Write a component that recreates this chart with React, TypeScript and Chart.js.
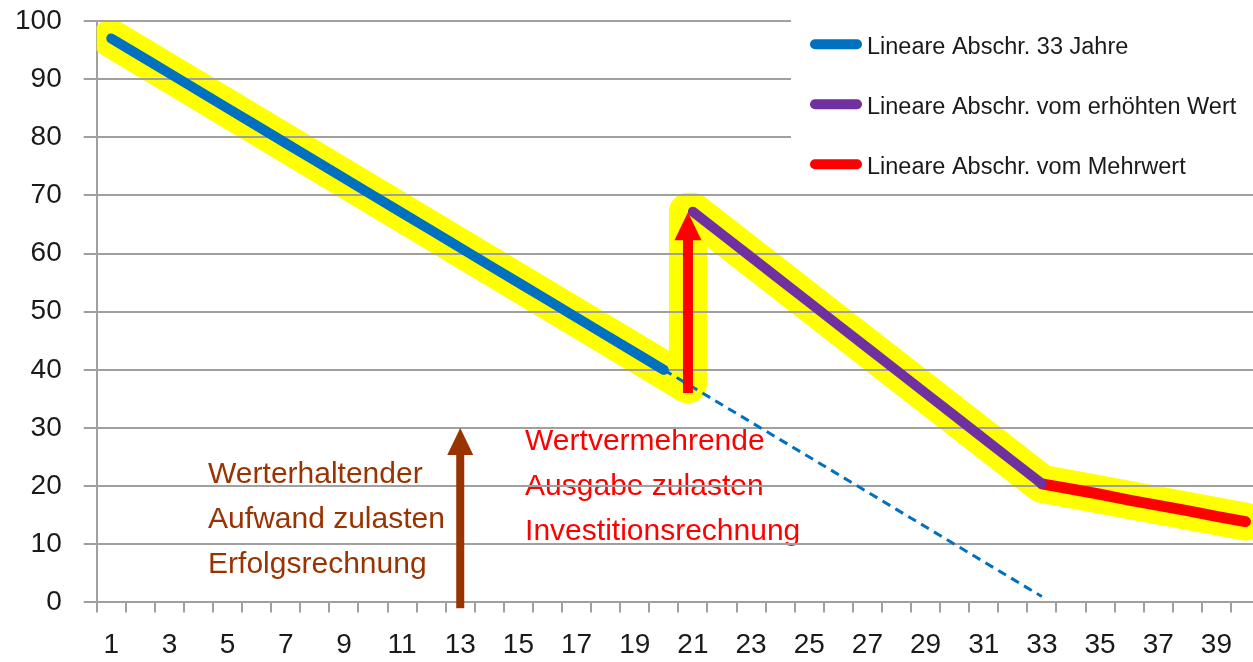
import React, { useEffect, useRef } from 'react';
import { Chart, registerables } from 'chart.js';

Chart.register(...registerables);

// ---- data ----
const years = ['1','2','3','4','5','6','7','8','9','10','11','12','13','14','15','16','17','18','19','20',
  '21','22','23','24','25','26','27','28','29','30','31','32','33','34','35','36','37','38','39','40'];

const blueValues = [97, 94, 91, 88, 85, 82, 79, 76, 73, 70, 67, 64, 61, 58, 55, 52, 49, 46, 43, 40,
  null, null, null, null, null, null, null, null, null, null, null, null, null, null, null, null, null, null, null, null];

const dashedValues = [null, null, null, null, null, null, null, null, null, null, null, null, null, null, null, null, null, null, null, 40,
  37, 34, 31, 28, 25, 22, 19, 16, 13, 10, 7, 4, 1, null, null, null, null, null, null, null];

const purpleValues = [null, null, null, null, null, null, null, null, null, null, null, null, null, null, null, null, null, null, null, null,
  67.2, 63.3, 59.4, 55.5, 51.6, 47.7, 43.8, 39.9, 36.0, 32.1, 28.2, 24.3, 20.4, null, null, null, null, null, null, null];

const redValues = [null, null, null, null, null, null, null, null, null, null, null, null, null, null, null, null, null, null, null, null,
  null, null, null, null, null, null, null, null, null, null, null, null, 20.4, 19.5, 18.6, 17.6, 16.7, 15.8, 14.8, 13.9];

// yellow highlight path (x in year units, y in value units)
const highlightX = [1, 20, 20.83, 20.83, 21, 33, 40];
const highlightY = [97, 40, 37.5, 67.2, 67.2, 20.4, 13.9];

// arrows: [brown, red]
const arrowX = [13, 20.83];
const arrowFrom = [-1, 36];
const arrowTo = [30, 67.1];

const yTicks = [0, 10, 20, 30, 40, 50, 60, 70, 80, 90, 100];

const legendLabels = ['Lineare Abschr. 33 Jahre', 'Lineare Abschr. vom erhöhten Wert', 'Lineare Abschr. vom Mehrwert'];

const brownText = ['Werterhaltender', 'Aufwand zulasten', 'Erfolgsrechnung'];
const redText = ['Wertvermehrende', 'Ausgabe zulasten', 'Investitionsrechnung'];
const brownTextAnchor = [4.33, 20.5];
const redTextAnchor = [15.23, 26.2];

// ---- styles ----
const FONT = "'Liberation Sans', Arial, sans-serif";
const GRID = '#a0a0a0';
const BLUE = '#0070C0';
const PURPLE = '#7030A0';
const RED = '#FF0000';
const YELLOW = '#FFFF00';
const BROWN = '#993300';
const TEXT = '#1a1a1a';

function alignPx(p: number, w: number) {
  const h = w / 2;
  return Math.round(p - h) + h;
}

const overlayPlugin = {
  id: 'overlay',
  beforeDraw(chart: any) {
    const ctx = chart.ctx;
    const xs = chart.scales.xl;
    const ys = chart.scales.y;
    ctx.save();
    ctx.font = `30px ${FONT}`;
    ctx.textAlign = 'left';
    ctx.textBaseline = 'alphabetic';
    const drawBlock = (lines: string[], anchor: number[], color: string) => {
      ctx.fillStyle = color;
      const x = xs.getPixelForValue(anchor[0]);
      const y0 = ys.getPixelForValue(anchor[1]);
      lines.forEach((t, i) => ctx.fillText(t, x, y0 + i * 45));
    };
    drawBlock(brownText, brownTextAnchor, BROWN);
    drawBlock(redText, redTextAnchor, RED);
    ctx.restore();
  },
  afterDatasetDraw(chart: any, args: any) {
    if (args.meta.label !== 'highlight') return;
    const ctx = chart.ctx;
    const ys = chart.scales.y;
    const area = chart.chartArea;
    ctx.save();
    ctx.strokeStyle = GRID;
    ctx.lineWidth = 2;
    ctx.beginPath();
    yTicks.forEach((v) => {
      const y = alignPx(ys.getPixelForValue(v), 2);
      ctx.moveTo(area.left, y);
      ctx.lineTo(area.right, y);
    });
    ctx.stroke();
    ctx.restore();
  },
  afterDatasetsDraw(chart: any) {
    const ctx = chart.ctx;
    const xs = chart.scales.xl;
    const ys = chart.scales.y;
    const specs = [
      { color: BROWN, shaft: 8, headW: 26, headH: 27 },
      { color: RED, shaft: 10, headW: 27, headH: 28 },
    ];
    ctx.save();
    arrowX.forEach((ax, i) => {
      const s = specs[i];
      const x = xs.getPixelForValue(ax);
      const yf = ys.getPixelForValue(arrowFrom[i]);
      const yt = ys.getPixelForValue(arrowTo[i]);
      ctx.fillStyle = s.color;
      ctx.fillRect(x - s.shaft / 2, yt + s.headH - 1, s.shaft, yf - (yt + s.headH - 1));
      ctx.beginPath();
      ctx.moveTo(x, yt);
      ctx.lineTo(x + s.headW / 2, yt + s.headH);
      ctx.lineTo(x - s.headW / 2, yt + s.headH);
      ctx.closePath();
      ctx.fill();
    });
    ctx.restore();
  },
  afterDraw(chart: any) {
    const ctx = chart.ctx;
    const colors = [BLUE, PURPLE, RED];
    ctx.save();
    ctx.fillStyle = '#ffffff';
    ctx.fillRect(791, 0, chart.width - 791, 190);
    ctx.font = `23.5px ${FONT}`;
    ctx.textAlign = 'left';
    ctx.textBaseline = 'alphabetic';
    legendLabels.forEach((label, i) => {
      const yLine = 44.3 + i * 60;
      ctx.strokeStyle = colors[i];
      ctx.lineWidth = 10;
      ctx.lineCap = 'round';
      ctx.beginPath();
      ctx.moveTo(815, yLine);
      ctx.lineTo(857, yLine);
      ctx.stroke();
      ctx.fillStyle = TEXT;
      ctx.fillText(label, 867, yLine + 10);
    });
    ctx.restore();
  },
};

export default function App() {
  const ref = useRef<HTMLCanvasElement | null>(null);

  useEffect(() => {
    if (!ref.current) return;
    Chart.defaults.font.family = FONT;
    const highlightData = highlightX.map((x, i) => ({ x, y: highlightY[i] }));
    const chart = new Chart(ref.current, {
      type: 'line',
      data: {
        labels: years,
        datasets: [
          {
            label: legendLabels[0], data: blueValues, borderColor: BLUE, borderWidth: 10,
            borderCapStyle: 'round', borderJoinStyle: 'round', pointRadius: 0, order: 1,
          },
          {
            label: legendLabels[1], data: purpleValues, borderColor: PURPLE, borderWidth: 10,
            borderCapStyle: 'round', borderJoinStyle: 'round', pointRadius: 0, order: 2,
          },
          {
            label: legendLabels[2], data: redValues, borderColor: RED, borderWidth: 11,
            borderCapStyle: 'round', borderJoinStyle: 'round', pointRadius: 0, order: 3,
          },
          {
            label: 'dashed', data: dashedValues, borderColor: BLUE, borderWidth: 3,
            borderDash: [9, 6], pointRadius: 0, order: 5,
          },
          {
            label: 'highlight', data: highlightData as any, xAxisID: 'xl', borderColor: YELLOW, borderWidth: 38,
            borderCapStyle: 'round', borderJoinStyle: 'round', pointRadius: 0, order: 10,
          },
        ],
      },
      options: {
        responsive: true,
        maintainAspectRatio: false,
        animation: false,
        layout: { padding: { left: -7, right: 2, top: 21, bottom: -16 } },
        plugins: { legend: { display: false }, tooltip: { enabled: false } },
        elements: { point: { radius: 0 }, line: { tension: 0 } },
        scales: {
          x: {
            type: 'category',
            offset: true,
            grid: { offset: true, drawOnChartArea: false, drawTicks: true, tickLength: 10, color: GRID, lineWidth: 2 },
            border: { display: true, color: GRID, width: 2 },
            ticks: {
              autoSkip: false, maxRotation: 0, minRotation: 0, padding: 16, color: TEXT,
              font: { size: 28 },
              callback: (_v: any, i: number) => (i % 2 === 0 ? years[i] : ''),
            },
            afterFit: (s: any) => { s.paddingLeft = 0; s.paddingRight = 0; },
          },
          xl: { type: 'linear', display: false, min: 0.5, max: 40.5 },
          y: {
            min: 0, max: 100,
            afterBuildTicks: (scale: any) => { scale.ticks = yTicks.map((v) => ({ value: v })); },
            ticks: { padding: 22, color: TEXT, font: { size: 28 } },
            grid: { color: GRID, lineWidth: 2, tickLength: 13 },
            border: { display: true, color: GRID, width: 2 },
            afterFit: (s: any) => { s.paddingTop = 0; s.paddingBottom = 0; },
          },
        },
      },
      plugins: [overlayPlugin],
    } as any);
    return () => chart.destroy();
  }, []);

  return (
    <div style={{ position: 'fixed', left: 0, top: 0, width: 1253, height: 662, overflow: 'hidden', background: '#fff' }}>
      <div style={{ position: 'relative', width: 1262, height: 662 }}>
        <canvas ref={ref} />
      </div>
    </div>
  );
}
